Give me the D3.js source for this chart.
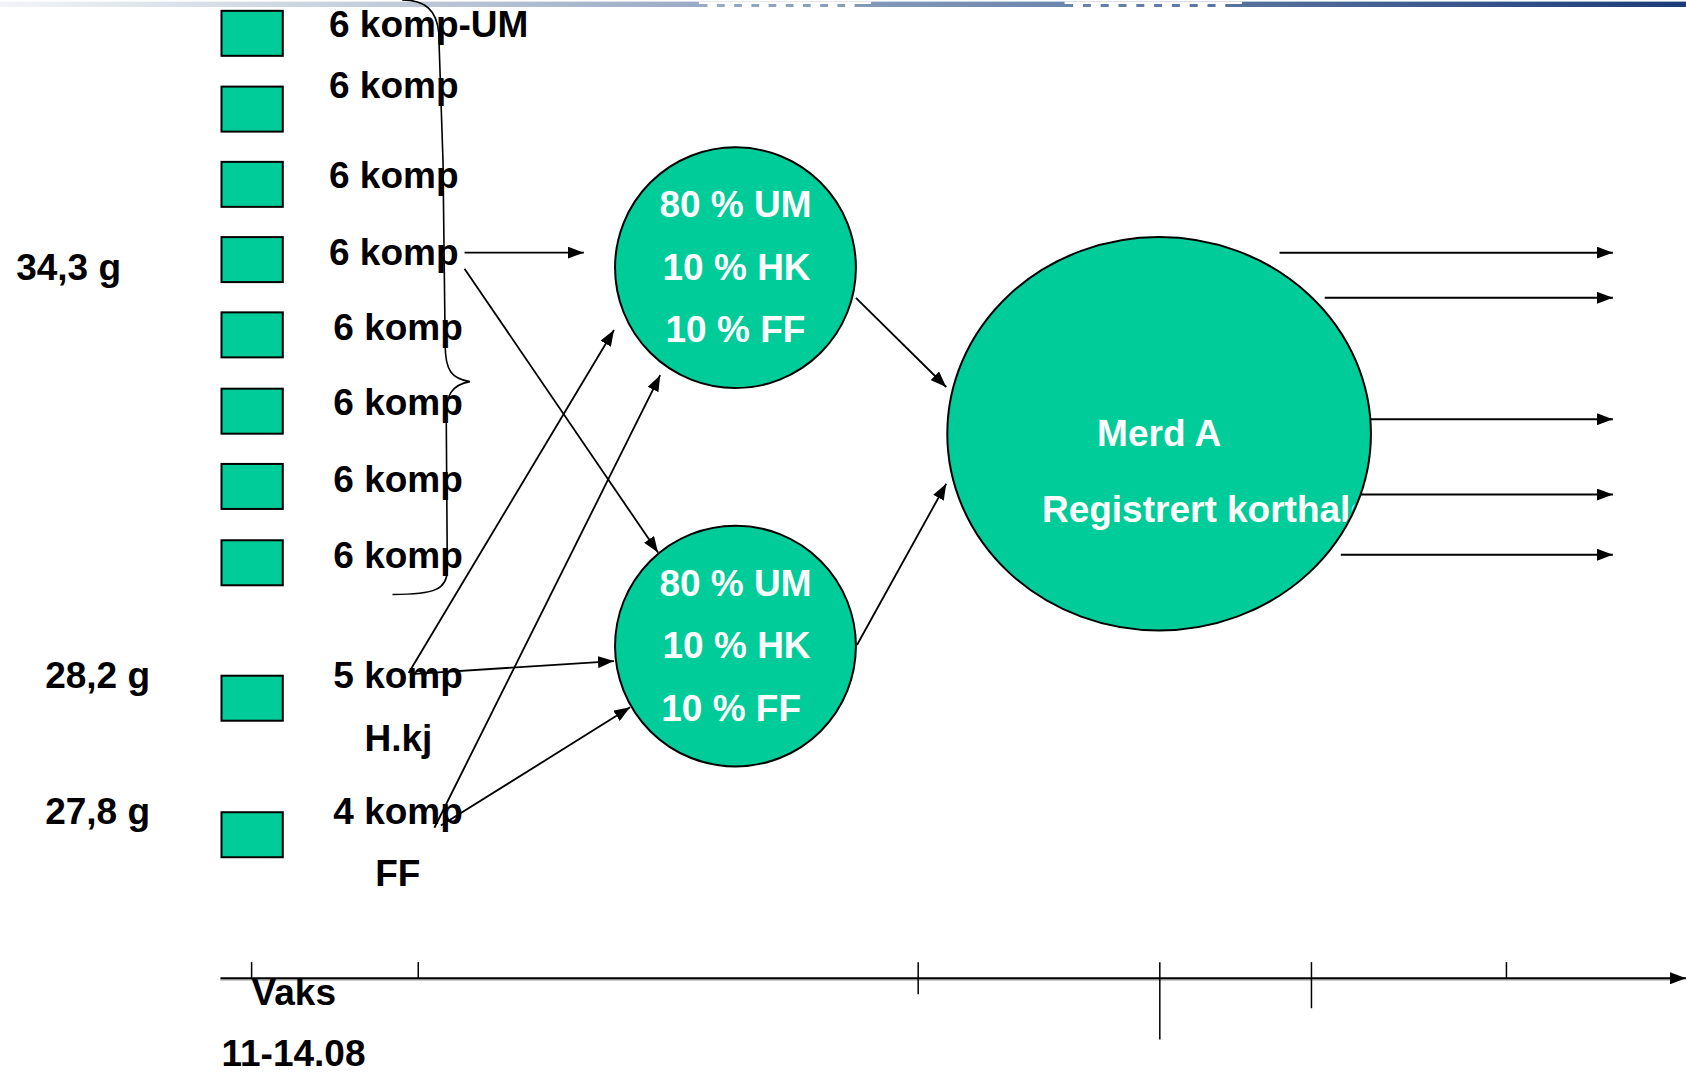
<!DOCTYPE html>
<html><head><meta charset="utf-8">
<script src="https://cdn.jsdelivr.net/npm/d3@7"></script>
<style>html,body{margin:0;padding:0;background:#fff;overflow:hidden}svg{display:block}</style>
</head><body>
<script>
// ---------- data ----------
const penLabels = ["6 komp-UM","6 komp","6 komp","6 komp","6 komp","6 komp","6 komp","6 komp","5 komp","4 komp"];
const penSubLabels = ["","","","","","","","","H.kj","FF"];
const weightLabels = ["34,3 g","28,2 g","27,8 g"];
const mixLines = ["80 % UM","10 % HK","10 % FF"];
const cageLabels = ["Merd A","Registrert korthale"];
const timelineTicks = [0, 10, 40, 54.5, 63.6, 75.3];
const timelineTickDepth = [0, 0, 1.2, 4.6, 2.25, 0];
const timelineLabels = ["Vaks","11-14.08"];
const outgoingRows = [0, 1, 2, 3, 4];

// ---------- layout (design units = 1568-wide frame) ----------
const W = 1686, H = 1075;
const sx = d3.scaleLinear().domain([0,1568]).range([0,W]);
const sy = d3.scaleLinear().domain([0,1000]).range([0,H]);
const rowY = [31, 101.5, 171.5, 241.5, 311.5, 382.5, 452.5, 523.5, 649.5, 776.5];
const labelY = [22, 79, 163, 234, 304, 374, 445, 516, 628, 754];
const labelX = [306,306,306,306,310,310,310,310,310,310];
const subLabelX = [0,0,0,0,0,0,0,0,339,349];
const subLabelY = [0,0,0,0,0,0,0,0,686,812];
const weightX = [15, 42, 42];
const weightY = [248, 628, 754];
const FS = 37, base = 13.2;
const GREEN = "#00CC99";

const svg = d3.select("body").append("svg").attr("width",W).attr("height",H)
  .style("font-family","'Liberation Sans', Arial, sans-serif").style("font-weight","bold");

const defs = svg.append("defs");
defs.append("marker").attr("id","arr").attr("markerUnits","userSpaceOnUse")
  .attr("viewBox","0 0 16 12").attr("refX",16).attr("refY",6)
  .attr("markerWidth",16).attr("markerHeight",12).attr("orient","auto")
  .append("path").attr("d","M0,0 L16,6 L0,12 Z").attr("fill","#000");
const grad = defs.append("linearGradient").attr("id","hdr").attr("x1","0").attr("x2","1");
grad.append("stop").attr("offset","0").attr("stop-color","#f2f4f7");
grad.append("stop").attr("offset","0.35").attr("stop-color","#a7b6cb");
grad.append("stop").attr("offset","0.7").attr("stop-color","#5d79a4");
grad.append("stop").attr("offset","1").attr("stop-color","#1b3b79");

// header bar with white breaks (bottoms of cut-off header letters)
svg.append("rect").attr("x",0).attr("y",sy(1.5)).attr("width",W).attr("height",sy(5)).attr("fill","url(#hdr)");
const hdrX = [650, 990];
const hdrW = [160, 165];
hdrX.forEach((x0,i)=>{
  svg.append("rect").attr("x",sx(x0)).attr("y",sy(1.5)).attr("width",sx(hdrW[i])).attr("height",sy(2.2)).attr("fill","#fff");
  const n = 9;
  for(let k=0;k<n;k++){
    svg.append("rect").attr("x",sx(x0+8+k*(hdrW[i]-16)/n)).attr("y",sy(3.5))
      .attr("width",sx((hdrW[i]-16)/n*0.55)).attr("height",sy(3)).attr("fill","#fff");
  }
});

// squares
svg.append("g").selectAll("rect").data(penLabels).join("rect")
  .attr("x",sx(206)).attr("y",(d,i)=>sy(rowY[i])-22.5)
  .attr("width",sx(263)-sx(206)).attr("height",45)
  .attr("fill",GREEN).attr("stroke","#000").attr("stroke-width",2);

// pen labels
svg.append("g").selectAll("text").data(penLabels).join("text")
  .attr("x",(d,i)=>sx(labelX[i])).attr("y",(d,i)=>sy(labelY[i])+base)
  .attr("font-size",FS).attr("fill","#000").text(d=>d);
svg.append("g").selectAll("text").data(penSubLabels.map((d,i)=>({d,i})).filter(o=>o.d)).join("text")
  .attr("x",o=>sx(subLabelX[o.i])).attr("y",o=>sy(subLabelY[o.i])+base)
  .attr("font-size",FS).attr("fill","#000").text(o=>o.d);

// weights
svg.append("g").selectAll("text").data(weightLabels).join("text")
  .attr("x",(d,i)=>sx(weightX[i])).attr("y",(d,i)=>sy(weightY[i])+base)
  .attr("font-size",FS).attr("fill","#000").text(d=>d);

// brace
const braceD = [[374,0],[396,0],[406,10],[408,30],[412,150],[414,320],[414,345],[420,352],[437,355],[420,358],[415,368],[415,385],[416,530],[416,548],[405,553],[365,553]];
const p = braceD.map(([x,y])=>[sx(x),sy(y)]);
const bp = d3.path();
bp.moveTo(...p[0]); bp.bezierCurveTo(...p[1],...p[2],...p[3]);
bp.lineTo(...p[4]); bp.lineTo(...p[5]);
bp.bezierCurveTo(...p[6],...p[7],...p[8]);
bp.bezierCurveTo(...p[9],...p[10],...p[11]);
bp.lineTo(...p[12]); bp.bezierCurveTo(...p[13],...p[14],...p[15]);
svg.append("path").attr("d",bp.toString()).attr("fill","none").attr("stroke","#000").attr("stroke-width",1.6);

// arrows
const arrows = [
  [432,235,543,235],[432,250,612,514],[380,626,571,307],[382,627,571,615],
  [404,770,614,349],[410,768,586,658],[796,277,880,360],[797,600,880,450]
];
svg.append("g").selectAll("line").data(arrows).join("line")
  .attr("x1",d=>sx(d[0])).attr("y1",d=>sy(d[1])).attr("x2",d=>sx(d[2])).attr("y2",d=>sy(d[3]))
  .attr("stroke","#000").attr("stroke-width",1.8).attr("marker-end","url(#arr)");

// mixing circles
const circY = [249, 601];
const circG = svg.append("g");
circY.forEach(cy=>{
  circG.append("ellipse").attr("cx",sx(684)).attr("cy",sy(cy)).attr("rx",sx(112)).attr("ry",sy(112))
    .attr("fill",GREEN).attr("stroke","#000").attr("stroke-width",2);
});
const mixY = [[190,248,306],[542,600,658]];
const mixX = [[684,685,684],[684,685,680]];
circY.forEach((cy,ci)=>{
  circG.append("g").selectAll("text").data(mixLines).join("text")
    .attr("x",(d,i)=>sx(mixX[ci][i])).attr("y",(d,i)=>sy(mixY[ci][i])+base)
    .attr("text-anchor","middle").attr("font-size",FS).attr("fill","#fff").text(d=>d);
});

// outgoing arrows (drawn under the cage)
const outStart = [1190,1232,1275,1262,1247];
const outY = [235,277,390,460,516];
svg.append("g").selectAll("line").data(outgoingRows).join("line")
  .attr("x1",i=>sx(outStart[i])).attr("y1",i=>sy(outY[i])).attr("x2",sx(1500)).attr("y2",i=>sy(outY[i]))
  .attr("stroke","#000").attr("stroke-width",2).attr("marker-end","url(#arr)");

// cage ellipse
const ecx = sx(1078), ecy = sy(403.5), erx = sx(197), ery = sy(183);
defs.append("clipPath").attr("id","cageclip").append("ellipse")
  .attr("cx",ecx).attr("cy",ecy).attr("rx",erx-2).attr("ry",ery-2);
svg.append("ellipse").attr("cx",ecx).attr("cy",ecy).attr("rx",erx).attr("ry",ery)
  .attr("fill",GREEN).attr("stroke","#000").attr("stroke-width",2);
const cg = svg.append("g").attr("clip-path","url(#cageclip)");
cg.append("text").attr("x",sx(1078)).attr("y",sy(403)+base).attr("text-anchor","middle")
  .attr("font-size",FS).attr("fill","#fff").text(cageLabels[0]);
cg.append("text").attr("x",sx(969)).attr("y",sy(473)+base)
  .attr("font-size",FS).attr("fill","#fff").text(cageLabels[1]);

// timeline
const tx = d3.scaleLinear().domain([0,75.3]).range([sx(234),sx(1401)]);
const tY = sy(910);
svg.append("line").attr("x1",sx(205)).attr("y1",tY+1.5).attr("x2",W-14).attr("y2",tY+1.5)
  .attr("stroke","#bbb").attr("stroke-width",2);
svg.append("line").attr("x1",sx(205)).attr("y1",tY).attr("x2",W).attr("y2",tY)
  .attr("stroke","#000").attr("stroke-width",2.2).attr("marker-end","url(#arr)");
svg.append("g").selectAll("line").data(timelineTicks).join("line")
  .attr("x1",d=>tx(d)).attr("x2",d=>tx(d))
  .attr("y1",sy(895)).attr("y2",(d,i)=>tY+timelineTickDepth[i]*sy(12.4))
  .attr("stroke","#000").attr("stroke-width",1.5);
svg.append("text").attr("x",tx(0)).attr("y",sy(923)+base).attr("font-size",FS).attr("fill","#000").text(timelineLabels[0]);
svg.append("text").attr("x",sx(206)).attr("y",sy(979)+base)
  .attr("font-size",FS).attr("fill","#000").text(timelineLabels[1]);
</script>
</body></html>
